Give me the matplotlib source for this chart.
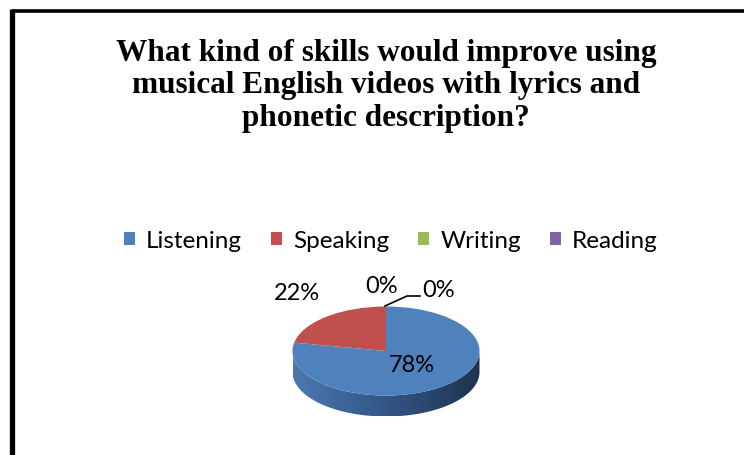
import numpy as np
import matplotlib
matplotlib.use('Agg')
import matplotlib.pyplot as plt
from matplotlib.patches import Patch, PathPatch
from matplotlib.path import Path
from matplotlib.colors import LinearSegmentedColormap

# survey answers (percent)
skills = ['Listening', 'Speaking', 'Writing', 'Reading']
shares = [78, 22, 0, 0]
colors = ['#4f81bd', '#c0504d', '#9bbb59', '#8064a2']
title = ('What kind of skills would improve using\n'
         'musical English videos with lyrics and\n'
         'phonetic description?')

W, H = 744, 455
fig = plt.figure(figsize=(W / 100, H / 100), dpi=100)
fig.patch.set_facecolor('white')

# outer frame, only the top and left edges fall inside the canvas
frame = fig.add_axes([0, 0, 1, 1])
frame.set_xlim(0, W)
frame.set_ylim(H, 0)
frame.axis('off')
frame.plot([11.5, W], [10.5, 10.5], color='black', lw=2.6,
           solid_capstyle='butt')
frame.plot([11.5, 11.5], [9, H], color='black', lw=3.8,
           solid_capstyle='butt')

fig.text(386 / W, 1 - 86 / H, title, ha='center', va='center',
         family='Liberation Serif', weight='bold', fontsize=22.5,
         linespacing=1.16)

handles = [Patch(fc=c, ec='none') for c in colors]
fig.legend(handles, skills, loc='center', bbox_to_anchor=(391 / W, 1 - 241 / H),
           ncol=4, frameon=False, prop={'family': 'Lato', 'size': 17.5},
           handlelength=0.45, handleheight=0.45, handletextpad=0.45,
           columnspacing=1.2)

# pie drawn as an ellipse: top face plus a shaded side wall
cx, cy, a, b, depth = 386, 351, 93.5, 44.5, 21
d = depth / b
left, right = cx - a, cx + a
top, bottom = cy - b, cy + b + depth
ax = fig.add_axes([left / W, 1 - bottom / H, 2 * a / W, (bottom - top) / H])
ax.axis('off')

t = np.linspace(np.pi, 2 * np.pi, 200)
xs = np.cos(t)
ys = np.sin(t)
verts = np.concatenate([np.column_stack([xs, ys]),
                        np.column_stack([xs[::-1], ys[::-1] - d])])
side = PathPatch(Path(verts, closed=True), fc='none', ec='none')
ax.add_patch(side)
side_cmap = LinearSegmentedColormap.from_list(
    'side', ['#4c78b0', '#3a6196', '#2c4a73', '#1e3250'])
grad = np.linspace(0, 1, 256).reshape(1, -1)
img = ax.imshow(grad, cmap=side_cmap, extent=[-1, 1, -1 - d, 0],
                aspect='auto', zorder=1)
img.set_clip_path(side)

wedges, _ = ax.pie(shares, colors=colors, startangle=90, counterclock=False,
                   radius=1, wedgeprops={'lw': 0})
for w in wedges:
    w.set_zorder(2)
ax.set_xlim(-1, 1)
ax.set_ylim(-1 - d, 1)
ax.set_aspect('auto')

lab = {'family': 'Lato', 'size': 17, 'ha': 'center', 'va': 'center',
       'zorder': 5, 'clip_on': False}
ax.text((412 - cx) / a, (cy - 366) / b, f'{shares[0]}%', **lab)
ax.text((296.5 - cx) / a, (cy - 294) / b, f'{shares[1]}%', **lab)
ax.text((381.5 - cx) / a, (cy - 287) / b, f'{shares[2]}%', **lab)
ax.text((439 - cx) / a, (cy - 290.5) / b, f'{shares[3]}%', **lab)
ax.plot([(385 - cx) / a, (407 - cx) / a, (420 - cx) / a],
        [(cy - 306) / b, (cy - 296) / b, (cy - 296) / b],
        color='black', lw=1.2, clip_on=False, zorder=5)

fig.savefig('out.png', dpi=100)
